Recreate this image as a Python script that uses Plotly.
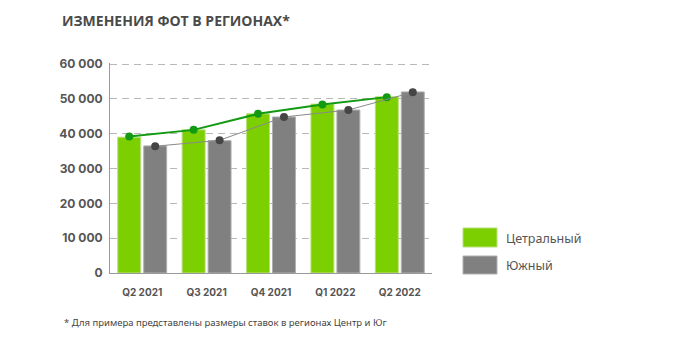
import plotly.graph_objects as go

categories = ["Q2 2021", "Q3 2021", "Q4 2021", "Q1 2022", "Q2 2022"]
central_bars = [39000, 41100, 45700, 48500, 50600]
south_bars = [36500, 38000, 44800, 46800, 52000]
central_line = [39200, 41100, 45700, 48400, 50500]
south_line = [36400, 38100, 44800, 46800, 51900]
series_names = ["Цетральный", "Южный"]
y_ticks = [0, 10000, 20000, 30000, 40000, 50000, 60000]

GREEN = "#7ccf00"
GREY = "#808080"
LINE_GREEN = "#129a12"

fig = go.Figure()
fig.add_trace(go.Bar(x=categories, y=central_bars, name=series_names[0], offsetgroup="c",
                     marker=dict(color=GREEN, line=dict(color="#b8e07a", width=1)), showlegend=False))
fig.add_trace(go.Bar(x=categories, y=south_bars, name=series_names[1], offsetgroup="s",
                     marker=dict(color=GREY, line=dict(color="#b0b0b0", width=1)), showlegend=False))
fig.add_trace(go.Scatter(x=categories, y=central_line, offsetgroup="c", mode="lines+markers",
                         line=dict(color=LINE_GREEN, width=2), marker=dict(color=LINE_GREEN, size=8),
                         showlegend=False, hoverinfo="skip"))
fig.add_trace(go.Scatter(x=categories, y=south_line, offsetgroup="s", mode="lines+markers",
                         line=dict(color="#8a8a8a", width=1), marker=dict(color="#454545", size=8),
                         showlegend=False, hoverinfo="skip"))

fig.update_layout(
    width=698, height=348,
    margin=dict(l=110, r=266, t=63, b=75),
    plot_bgcolor="white", paper_bgcolor="white",
    barmode="group", bargap=0.194, bargroupgap=0.115,
    scattermode="group",
    separators=". ",
    title=dict(text="<b>ИЗМЕНЕНИЯ ФОТ В РЕГИОНАХ*</b>", x=62/698, xanchor="left",
               y=1-21/348, yanchor="middle", yref="container",
               font=dict(family="Open Sans", size=14, color="#4a4a4a")),
)
fig.update_yaxes(range=[0, 60300], tickvals=y_ticks, tickformat=",d",
                 showgrid=True, gridcolor="#b8b8b8", griddash="7px,5px", gridwidth=1,
                 showline=True, linecolor="#9a9a9a", linewidth=1, zeroline=False,
                 ticklabelstandoff=4, layer="below traces",
                 tickfont=dict(family="Inter", size=12, color="#555555", weight=700))
fig.update_xaxes(showline=True, linecolor="#9a9a9a", linewidth=1, showgrid=False,
                 ticklabelstandoff=10,
                 tickfont=dict(family="Inter", size=10, color="#555555", weight=700))

legend_items = [(series_names[0], GREEN, "#b8e07a", 228, 247, 238),
                (series_names[1], GREY, "#b0b0b0", 256, 274, 265)]
def py(pix):
    return (273 - pix) / 210
def px(pix):
    return (pix - 110) / 322
for name, col, lc, top, bot, mid in legend_items:
    fig.add_shape(type="rect", xref="paper", yref="paper", x0=px(463), x1=px(497),
                  y0=py(bot), y1=py(top), fillcolor=col, line=dict(color=lc, width=1))
    fig.add_annotation(text=name, xref="paper", yref="paper", x=px(504), y=py(mid),
                       xanchor="left", yanchor="middle", showarrow=False,
                       font=dict(family="Noto Sans", size=12.5, color="#555555"))

fig.add_annotation(text="* Для примера представлены размеры ставок в регионах Центр и Юг",
                   xref="paper", yref="paper", x=px(62), y=py(322), xanchor="left",
                   yanchor="middle", showarrow=False,
                   font=dict(family="Noto Sans", size=9.5, color="#444444"))

fig.write_html("out.html")
